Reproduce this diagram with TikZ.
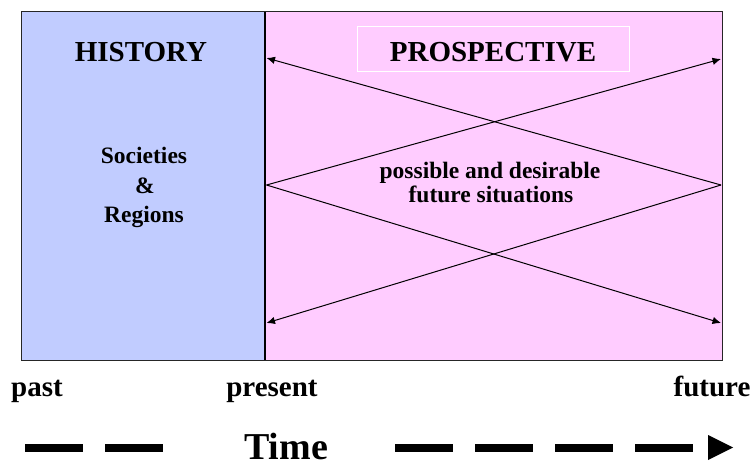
\documentclass[tikz,border=0pt]{standalone}
\usepackage{fontspec}
\setmainfont{Liberation Serif}
\usetikzlibrary{arrows.meta}
\definecolor{histblue}{HTML}{C1CCFF}
\definecolor{prospink}{HTML}{FFCCFF}
\begin{document}
\begin{tikzpicture}[x=1pt,y=-1pt,
  lbl/.style={inner sep=0pt,anchor=base,font=\bfseries\fontsize{29}{35}\selectfont},
  sub/.style={inner sep=0pt,anchor=base,font=\bfseries\fontsize{23.5}{29}\selectfont},
  scen/.style={line width=1pt,-{Latex[length=8.5pt,width=7.5pt]}},
  tdash/.style={line width=8pt,dash pattern=on 58pt off 22pt}]
\useasboundingbox (0,0) rectangle (754,468);
% panels
\fill[histblue] (21,12) rectangle (265,360);
\fill[prospink] (265,12) rectangle (722,360);
\draw[black!85,line width=1pt] (21,12) rectangle (722,360);
\draw[black,line width=2.8pt] (265,12) -- (265,360);
% prospective label box
\draw[white,fill=prospink,line width=0.6pt] (357,26) rectangle (629,71);
% titles
\node[lbl] (hist) at (141,62) {HISTORY};
\node[lbl] (prosp) at (493,62) {PROSPECTIVE};
\node[sub] (soc) at (144,163) {Societies};
\node[sub] (amp) at (145,193) {\&};
\node[sub] (reg) at (144,222) {Regions};
\node[sub] (pos) at (490,178) {possible and desirable};
\node[sub] (fut) at (491,202) {future situations};
% scenario points
\coordinate (L) at (266.5,185);
\coordinate (R) at (721,185);
\coordinate (UL) at (266.5,58);
\coordinate (LL) at (266.5,323);
\coordinate (UR) at (721,59);
\coordinate (LR) at (721,323);
\draw[scen] (L) -- (UR);
\draw[scen] (L) -- (LR);
\draw[scen] (R) -- (UL);
\draw[scen] (R) -- (LL);
% time labels
\node[lbl] (past) at (37,396) {past};
\node[lbl] (pres) at (272,396) {present};
\node[lbl] (futr) at (712,396) {future};
\node[inner sep=0pt,anchor=base,font=\bfseries\fontsize{38}{44}\selectfont] (time) at (286,459) {Time};
% time axis dashes
\coordinate (d1a) at (25,448);
\coordinate (d1b) at (163,448);
\coordinate (d2a) at (395,448);
\coordinate (d2b) at (693,448);
\draw[tdash] (d1a) -- (d1b);
\draw[tdash] (d2a) -- (d2b);
\coordinate (tipA) at (708,435);
\coordinate (tipB) at (733,447.5);
\coordinate (tipC) at (708,460);
\fill[black] (tipA) -- (tipB) -- (tipC) -- cycle;
\end{tikzpicture}
\end{document}
